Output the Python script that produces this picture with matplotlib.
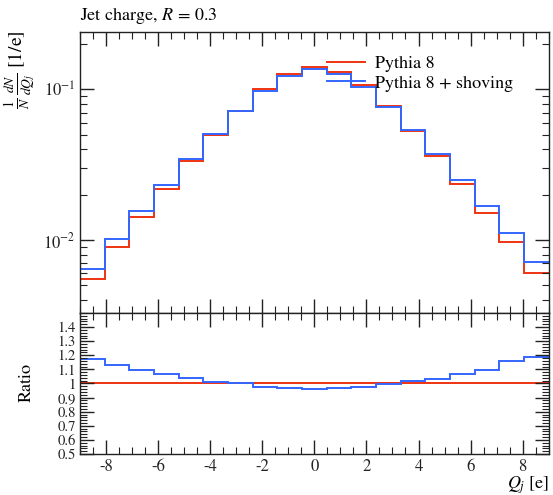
import numpy as np
import matplotlib
matplotlib.use("Agg")
import matplotlib.pyplot as plt
from matplotlib.ticker import MultipleLocator, LogLocator, FuncFormatter, NullFormatter

plt.rcParams["font.family"] = "STIXGeneral"
plt.rcParams["mathtext.fontset"] = "stix"
plt.rcParams["axes.unicode_minus"] = False

# 19 equal bins of jet charge Q_j in [-9, 9]
bin_edges = np.linspace(-9, 9, 20)

pythia8 = [0.00551, 0.00895, 0.01415, 0.0218, 0.0333, 0.0497, 0.0721, 0.1002,
           0.1263, 0.1406, 0.1309, 0.1063, 0.0771, 0.0529, 0.0361, 0.0234,
           0.0152, 0.00966, 0.00607]
pythia8_shoving = [0.00645, 0.01012, 0.01552, 0.02324, 0.03453, 0.0502, 0.0723,
                   0.0978, 0.1226, 0.1355, 0.1264, 0.1037, 0.0769, 0.0540,
                   0.0373, 0.0249, 0.0167, 0.01121, 0.00720]

labels = ["Pythia 8", "Pythia 8 + shoving"]
colors = ["#EE3311", "#3366FF"]

ratio_ticks = [0.5, 0.6, 0.7, 0.8, 0.9, 1.0, 1.1, 1.2, 1.3, 1.4]

W, H = 553, 495
fig = plt.figure(figsize=(W / 100, H / 100), dpi=100)

left, right = 80 / W, 548.7 / W
top, mid, bottom = 1 - 32 / H, 1 - 313 / H, 1 - 454 / H
ax = fig.add_axes([left, mid, right - left, top - mid])
rax = fig.add_axes([left, bottom, right - left, mid - bottom], sharex=ax)

ref = np.array(pythia8)
for vals, lab, col in zip([pythia8, pythia8_shoving], labels, colors):
    vals = np.array(vals)
    ax.stairs(vals, bin_edges, baseline=None, color=col, lw=1.4, label=lab)
    rax.stairs(vals / ref, bin_edges, baseline=None, color=col, lw=1.4)

ax.set_yscale("log")
ax.set_xlim(-9, 9)
ax.set_ylim(0.00328, 0.24)
rax.set_ylim(0.5, 1.5)

for a in (ax, rax):
    a.tick_params(which="both", direction="in", top=True, right=True,
                  labelsize=12, colors="#222222")
    a.tick_params(which="major", length=10, width=1)
    a.tick_params(which="minor", length=5, width=0.8)
    for s in a.spines.values():
        s.set_linewidth(1)
        s.set_color("#222222")
    a.xaxis.set_major_locator(MultipleLocator(2))
    a.xaxis.set_minor_locator(MultipleLocator(0.5))

ax.yaxis.set_major_locator(LogLocator(base=10, numticks=10))
ax.yaxis.set_minor_locator(LogLocator(base=10, subs=np.arange(2, 10), numticks=10))
ax.yaxis.set_minor_formatter(NullFormatter())
plt.setp(ax.get_xticklabels(), visible=False)

rax.set_yticks(ratio_ticks)
rax.yaxis.set_minor_locator(MultipleLocator(0.02))
rax.yaxis.set_major_formatter(FuncFormatter(lambda v, p: f"{v:g}"))
rax.tick_params(axis="y", labelsize=10.5, pad=3)
rax.set_xticks([-8, -6, -4, -2, 0, 2, 4, 6, 8])

ax.legend(loc="upper left", bbox_to_anchor=(0.507, 0.948), frameon=False,
          fontsize=13, handlelength=2.1, handletextpad=0.6, labelspacing=0.15,
          borderpad=0)

fig.text(left, 1 - 15 / H, r"Jet charge, $R\,=\,0.3$", fontsize=13,
         ha="left", va="center")
fig.text(20 / W, 1 - 30 / H, r"$\frac{1}{N}\,\frac{dN}{dQ_j}$ [1/e]",
         fontsize=14, rotation=90, ha="center", va="top")
fig.text(27 / W, 1 - 383 / H, "Ratio", fontsize=13, rotation=90,
         ha="center", va="center")
fig.text(right, 1 - 485 / H, "$Q_j$ [e]", fontsize=13, ha="right",
         va="center")

fig.savefig("out.png", dpi=100)
